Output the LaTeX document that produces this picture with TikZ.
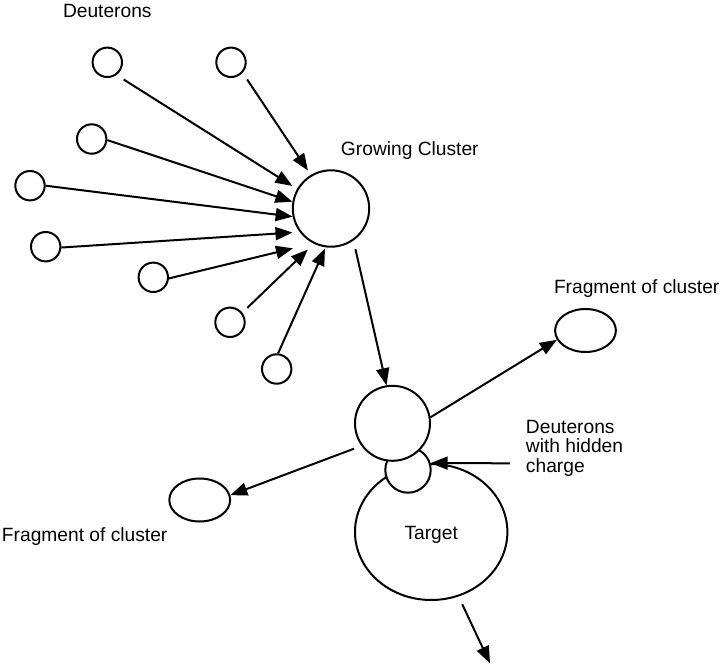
\documentclass[tikz,border=0pt]{standalone}
\usepackage{fontspec}
\setmainfont{Liberation Sans}
\usetikzlibrary{arrows.meta,shapes.geometric}

\begin{document}
\begin{tikzpicture}[x=0.5pt,y=-0.5pt,line width=1pt,
		deut/.style={circle,draw,minimum size=14.7pt,inner sep=0pt},
		clus/.style={circle,draw,fill=white,inner sep=0pt},
		frag/.style={ellipse,draw,inner sep=0pt,minimum width=30.4pt,minimum height=21.5pt},
		lbl/.style={anchor=base west,inner sep=0pt,font=\fontsize{9.6}{9.75}\selectfont,align=left},
		arr/.style={-{Triangle[length=8.5pt,width=6.5pt]}}]
	\useasboundingbox (0,0) rectangle (720,665);
	% target, then the small deuteron and the cluster on top of it
	\node[ellipse,draw,inner sep=0pt,minimum width=76.2pt,minimum height=68pt,
		text height=7pt,text depth=0pt,font=\fontsize{9.6}{9.75}\selectfont] (target) at (431.2,532) {Target};
	\node[clus,minimum size=22.7pt] (hc) at (408,470) {};
	\node[clus,minimum size=37.5pt] (lc) at (392.5,423.3) {};
	\node[clus,minimum size=38.2pt] (gc) at (331,208.5) {};
	% free deuterons
	\foreach \n/\x/\y in {1/107.3/62.3, 2/231/62.3, 3/91.7/139, 4/30/185.7,
		5/45.7/246.7, 6/153.3/277.3, 7/230/322.3, 8/276.7/369}
	\node[deut] (d\n) at (\x,\y) {};
	\node[frag] (fr) at (585.5,330.5) {};
	\node[frag] (fl) at (199.7,500) {};
	\coordinate (hcin) at (510,463.3);
	\coordinate (down) at (490,663.3);
	% arrows into the growing cluster
	\foreach \n/\a/\s/\b/\t in {1/306/4.25/150/2.8, 2/318/4/121/2.6, 3/356/0/170/0,
		4/0/0/192/0, 5/357/0/217/3.6, 6/356/0/243/10.4, 7/38/3.4/244/4.1, 8/85/0/262/0.65}
	\draw[arr,shorten <=\s pt,shorten >=\t pt] (d\n.\a) -- (gc.\b);
	\draw[arr,shorten <=4.4pt] (gc.305.6) -- (lc.99);
	\draw[arr] (lc.9.6) -- (fr.198.5);
	\draw[arr,shorten <=3.9pt] (lc.216.4) -- (fl.9);
	\draw[arr] (hcin) -- (hc.17);
	\draw[arr,shorten <=4.25pt] (target.293) -- (down);
	% labels
	\node[lbl] (tdeut) at (62,17) {Deuterons};
	\node[lbl] (tgrow) at (340,155) {Growing Cluster};
	\node[lbl] (tfr) at (553,293) {Fragment of cluster};
	\node[lbl] (thid) at (525,472) {Deuterons\\with hidden\\charge};
	\node[lbl] (tfl) at (1,541.7) {Fragment of cluster};
\end{tikzpicture}
\end{document}
